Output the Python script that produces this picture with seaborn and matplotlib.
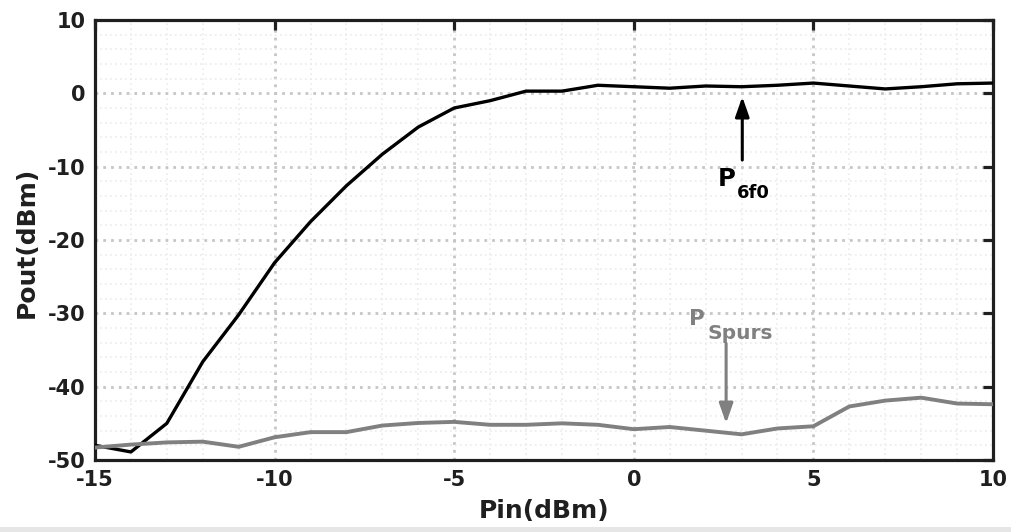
import numpy as np
import pandas as pd
import matplotlib
matplotlib.use("Agg")
import matplotlib.pyplot as plt
from matplotlib.ticker import MultipleLocator
from matplotlib.patches import Rectangle
import seaborn as sns

# Input power sweep (dBm)
pin = list(range(-15, 11))

# Sixth-harmonic output power (dBm)
p_6f0 = [-48.0, -48.9, -45.0, -36.6, -30.2, -23.1, -17.5, -12.6, -8.3, -4.6,
         -2.0, -1.0, 0.3, 0.3, 1.1, 0.9, 0.7, 1.0, 0.9, 1.1,
         1.4, 1.0, 0.6, 0.9, 1.3, 1.4]

# Spurious output power (dBm)
p_spurs = [-48.3, -47.9, -47.6, -47.5, -48.2, -46.9, -46.2, -46.2, -45.3, -44.95,
           -44.8, -45.2, -45.2, -45.0, -45.2, -45.8, -45.5, -46.0, -46.5, -45.7,
           -45.4, -42.7, -41.9, -41.5, -42.3, -42.4]

x_ticks = [-15, -10, -5, 0, 5, 10]
y_ticks = [-50, -40, -30, -20, -10, 0, 10]

sns.set_style("white")
plt.rcParams["font.family"] = ["DejaVu Sans"]
plt.rcParams["font.weight"] = "bold"
plt.rcParams["axes.unicode_minus"] = False

INK = "#1f1f1f"
GRAY = "#808080"

df = pd.DataFrame({
    "Pin": pin * 2,
    "Pout": p_6f0 + p_spurs,
    "trace": ["6f0"] * len(pin) + ["Spurs"] * len(pin),
})

fig = plt.figure(figsize=(10.12, 5.32), dpi=100)
ax = fig.add_axes([95 / 1012, 1 - 460 / 532, (993 - 95) / 1012, (460 - 20) / 532])

sns.lineplot(data=df, x="Pin", y="Pout", hue="trace",
             palette={"6f0": "#000000", "Spurs": GRAY},
             linewidth=2.4, legend=False, ax=ax, zorder=3)
for line, lw in zip(ax.lines, [2.4, 2.8]):
    line.set_linewidth(lw)

ax.set_xlim(-15, 10)
ax.set_ylim(-50, 10)
ax.set_xticks(x_ticks)
ax.set_yticks(y_ticks)
ax.xaxis.set_minor_locator(MultipleLocator(1))
ax.yaxis.set_minor_locator(MultipleLocator(2))

ax.grid(which="major", color="#c6c6c6", linestyle=(0, (1, 1.8)), linewidth=2.0, zorder=1)
ax.grid(which="minor", color="#ebebeb", linestyle=(0, (1, 2.0)), linewidth=1.2, zorder=0)
ax.set_axisbelow(True)

for s in ax.spines.values():
    s.set_visible(True)
    s.set_color(INK)
    s.set_linewidth(2.3)

ax.tick_params(which="major", direction="in", length=7, width=2.3,
               top=True, right=True, colors=INK, labelsize=15)
ax.tick_params(axis="x", which="major", pad=7)
ax.tick_params(axis="y", which="major", pad=7)
ax.tick_params(which="minor", length=0)
for lab in ax.get_xticklabels() + ax.get_yticklabels():
    lab.set_fontweight("bold")

ax.set_xlabel("Pin(dBm)", fontsize=18, fontweight="bold", color=INK)
ax.set_ylabel("Pout(dBm)", fontsize=18, fontweight="bold", color=INK)
ax.xaxis.set_label_coords(0.5, -(499 - 460) / 440)
ax.yaxis.set_label_coords((39 - 95) / 898, 0.495)

arrow_style = "-|>,head_length=1.2,head_width=0.42"

# P_6f0 marker arrow and label
ax.annotate("", xy=(3.02, -0.46), xytext=(3.02, -9.1),
            arrowprops=dict(arrowstyle=arrow_style,
                            color="black", lw=2.2, shrinkA=0, shrinkB=0))
ax.text(2.58, -12.64, "P", fontsize=17.5, fontweight="bold", color="black",
        ha="center", va="baseline")
ax.text(2.87, -14.27, "6f0", fontsize=13, fontweight="bold", color="black",
        ha="left", va="baseline")

# P_Spurs marker arrow and label
ax.annotate("", xy=(2.57, -45.0), xytext=(2.57, -34.1),
            arrowprops=dict(arrowstyle=arrow_style,
                            color=GRAY, lw=2.2, shrinkA=0, shrinkB=0))
ax.text(1.76, -31.6, "P", fontsize=15.5, fontweight="bold", color=GRAY,
        ha="center", va="baseline")
ax.text(2.04, -33.5, "Spurs", fontsize=14.5, fontweight="bold", color=GRAY,
        ha="left", va="baseline")

fig.patches.append(Rectangle((0, 0), 1, 5 / 532, transform=fig.transFigure,
                             facecolor="#e6e6e6", edgecolor="none"))

fig.savefig("out.png", dpi=100)
